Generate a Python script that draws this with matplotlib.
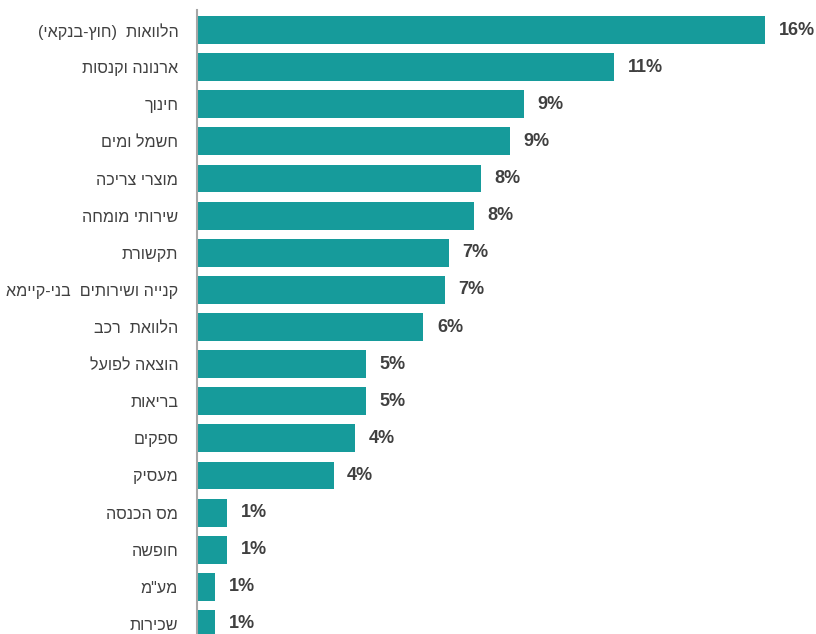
import matplotlib
matplotlib.use("Agg")
import matplotlib.pyplot as plt

categories = [
    "הלוואות  (חוץ-בנקאי)",
    "ארנונה וקנסות",
    "חינוך",
    "חשמל ומים",
    "מוצרי צריכה",
    "שירותי מומחה",
    "תקשורת",
    "קנייה ושירותים  בני-קיימא",
    "הלוואת  רכב",
    "הוצאה לפועל",
    "בריאות",
    "ספקים",
    "מעסיק",
    "מס הכנסה",
    "חופשה",
    'מע"מ',
    "שכירות",
]
values = [15.8, 11.6, 9.1, 8.7, 7.9, 7.7, 7.0, 6.9, 6.3, 4.7, 4.7, 4.4, 3.8, 0.83, 0.83, 0.5, 0.5]
value_labels = ["16%", "11%", "9%", "9%", "8%", "8%", "7%", "7%", "6%", "5%", "5%", "4%", "4%",
                "1%", "1%", "1%", "1%"]


def visual(s):
    r = s[::-1]
    return r.translate(str.maketrans("()", ")("))


plt.rcParams['font.family'] = ['Liberation Sans', 'DejaVu Sans']

fig = plt.figure(figsize=(8.16, 6.34), dpi=100)
ax = fig.add_axes([197 / 816, 0, 1 - 197 / 816, 624 / 634])

y = list(range(len(categories)))
ax.barh(y, values, height=0.75, color="#169B9B")
ax.set_ylim(16.27, -0.54)
ax.set_xlim(0, 620 / 36.0)

for yi, v, lab in zip(y, values, value_labels):
    ax.text(v + 0.38, yi, lab, ha="left", va="center", fontsize=13,
            fontweight="bold", color="#404040")

ax.set_yticks(y)
ax.set_yticklabels([visual(c) for c in categories], fontsize=11.6, color="#404040")
ax.tick_params(axis="y", length=0, pad=13.5)
ax.set_xticks([])
for side in ["top", "right", "bottom"]:
    ax.spines[side].set_visible(False)
ax.spines["left"].set_color("#A6A6A6")
ax.spines["left"].set_linewidth(1.5)

fig.savefig("out.png", dpi=100)
